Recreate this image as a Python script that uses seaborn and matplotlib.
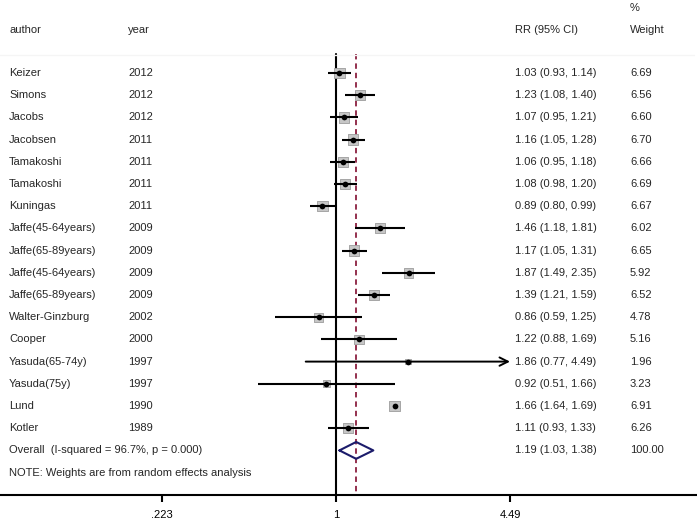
import numpy as np
import pandas as pd
import matplotlib
matplotlib.use("Agg")
import matplotlib.pyplot as plt
import seaborn as sns

authors = ["Keizer", "Simons", "Jacobs", "Jacobsen", "Tamakoshi", "Tamakoshi", "Kuningas",
           "Jaffe(45-64years)", "Jaffe(65-89years)", "Jaffe(45-64years)", "Jaffe(65-89years)",
           "Walter-Ginzburg", "Cooper", "Yasuda(65-74y)", "Yasuda(75y)", "Lund", "Kotler"]
years = ["2012", "2012", "2012", "2011", "2011", "2011", "2011", "2009", "2009", "2009", "2009",
         "2002", "2000", "1997", "1997", "1990", "1989"]
rr = [1.03, 1.23, 1.07, 1.16, 1.06, 1.08, 0.89, 1.46, 1.17, 1.87, 1.39, 0.86, 1.22, 1.86, 0.92, 1.66, 1.11]
lo = [0.93, 1.08, 0.95, 1.05, 0.95, 0.98, 0.80, 1.18, 1.05, 1.49, 1.21, 0.59, 0.88, 0.77, 0.51, 1.64, 0.93]
hi = [1.14, 1.40, 1.21, 1.28, 1.18, 1.20, 0.99, 1.81, 1.31, 2.35, 1.59, 1.25, 1.69, 4.49, 1.66, 1.69, 1.33]
weight = [6.69, 6.56, 6.60, 6.70, 6.66, 6.69, 6.67, 6.02, 6.65, 5.92, 6.52, 4.78, 5.16, 1.96, 3.23, 6.91, 6.26]

overall_label = "Overall  (I-squared = 96.7%, p = 0.000)"
overall_rr, overall_lo, overall_hi, overall_w = 1.19, 1.03, 1.38, 100.00
note = "NOTE: Weights are from random effects analysis"
xtick_vals = [0.223, 1, 4.49]
xtick_labels = [".223", "1", "4.49"]
axis_max = 4.49

sns.set_style("white")
plt.rcParams["font.family"] = ["Liberation Sans", "DejaVu Sans"]
FS = 8

df = pd.DataFrame({"author": authors, "year": years, "rr": rr, "lo": lo, "hi": hi, "weight": weight})
df["row"] = np.arange(len(df))

W, H = 697, 523
fig = plt.figure(figsize=(W / 100, H / 100), dpi=100)
ax_bottom_px = 495
ax = fig.add_axes([0, (H - ax_bottom_px) / H, 1, ax_bottom_px / H])

row0_px, step = 73.0, 22.2
def row_of(px):
    return (px - row0_px) / step

ax.set_xscale("log")
px_per_ln = (510 - 336) / np.log(4.49)
ax.set_xlim(np.exp((0 - 336) / px_per_ln), np.exp((W - 336) / px_per_ln))
ax.set_ylim(row_of(ax_bottom_px), row_of(0))

# squares sized by weight (area proportional to weight)
k = 8.4
sns.scatterplot(data=df, x="rr", y="row", marker="s", size="weight", sizes=(k * min(weight), k * max(weight)),
                size_norm=(min(weight), max(weight)), color="#c6c6c6", edgecolor="#9c9c9c", linewidth=0.6,
                legend=False, ax=ax, zorder=2)

# CI lines
for i, r in df.iterrows():
    if r["hi"] >= axis_max:
        ax.annotate("", xy=(r["hi"], r["row"]), xytext=(r["lo"], r["row"]),
                    arrowprops=dict(arrowstyle="->", lw=1.4, color="black", mutation_scale=15,
                                    shrinkA=0, shrinkB=0), zorder=3)
    else:
        ax.plot([r["lo"], r["hi"]], [r["row"], r["row"]], color="black", lw=1.5, zorder=3,
                solid_capstyle="butt")

sns.scatterplot(data=df, x="rr", y="row", marker="o", s=17, color="black", edgecolor="black",
                linewidth=0, legend=False, ax=ax, zorder=4)

n = len(df)
ov_row = n
# diamond
dh = 0.38
ax.plot([overall_lo, overall_rr, overall_hi, overall_rr, overall_lo],
        [ov_row, ov_row - dh, ov_row, ov_row + dh, ov_row], color="#1c1c6b", lw=1.5, zorder=3)

# reference lines
top_row = row_of(54)
ax.plot([1, 1], [top_row, row_of(ax_bottom_px)], color="black", lw=1.5, zorder=1)
ax.plot([overall_rr, overall_rr], [top_row, row_of(ax_bottom_px)], color="#8b2040", lw=1.3,
        dashes=(3.0, 2.2), zorder=1)

# header separator (very faint)
ax.plot([0, 0.995], [row_of(55), row_of(55)], transform=ax.get_yaxis_transform(), color="#f5f5f5", lw=1)

# text columns
tr = ax.get_yaxis_transform()
x_auth, x_year, x_rr, x_w = 9 / W, 128 / W, 515 / W, 630 / W
hdr = row_of(30)
ax.text(x_auth, hdr, "author", transform=tr, fontsize=FS, va="center")
ax.text(x_year, hdr, "year", transform=tr, fontsize=FS, va="center")
ax.text(x_rr, hdr, "RR (95% CI)", transform=tr, fontsize=FS, va="center")
ax.text(x_w, hdr, "Weight", transform=tr, fontsize=FS, va="center")
ax.text(x_w, row_of(8), "%", transform=tr, fontsize=FS, va="center")

for i, r in df.iterrows():
    ax.text(x_auth, r["row"], r["author"], transform=tr, fontsize=FS, va="center")
    ax.text(x_year, r["row"], r["year"], transform=tr, fontsize=FS, va="center")
    ax.text(x_rr, r["row"], f"{r['rr']:.2f} ({r['lo']:.2f}, {r['hi']:.2f})", transform=tr, fontsize=FS, va="center")
    ax.text(x_w, r["row"], f"{r['weight']:.2f}", transform=tr, fontsize=FS, va="center")

ax.text(x_auth, ov_row, overall_label, transform=tr, fontsize=FS, va="center")
ax.text(x_rr, ov_row, f"{overall_rr:.2f} ({overall_lo:.2f}, {overall_hi:.2f})", transform=tr, fontsize=FS, va="center")
ax.text(x_w, ov_row, f"{overall_w:.2f}", transform=tr, fontsize=FS, va="center")
ax.text(x_auth, ov_row + 1, note, transform=tr, fontsize=FS, va="center")

# axes styling
for s in ["top", "left", "right"]:
    ax.spines[s].set_visible(False)
ax.spines["bottom"].set_linewidth(1.5)
ax.spines["bottom"].set_color("black")
ax.set_xticks(xtick_vals)
ax.set_xticklabels(xtick_labels, fontsize=FS)
ax.xaxis.set_minor_locator(matplotlib.ticker.NullLocator())
ax.tick_params(axis="x", bottom=True, length=5, width=1.5, pad=6, direction="out", colors="black")
ax.set_yticks([])
ax.set_xlabel("")
ax.set_ylabel("")
ax.patch.set_alpha(0)
fig.patch.set_facecolor("white")

fig.savefig("out.png", dpi=100)
